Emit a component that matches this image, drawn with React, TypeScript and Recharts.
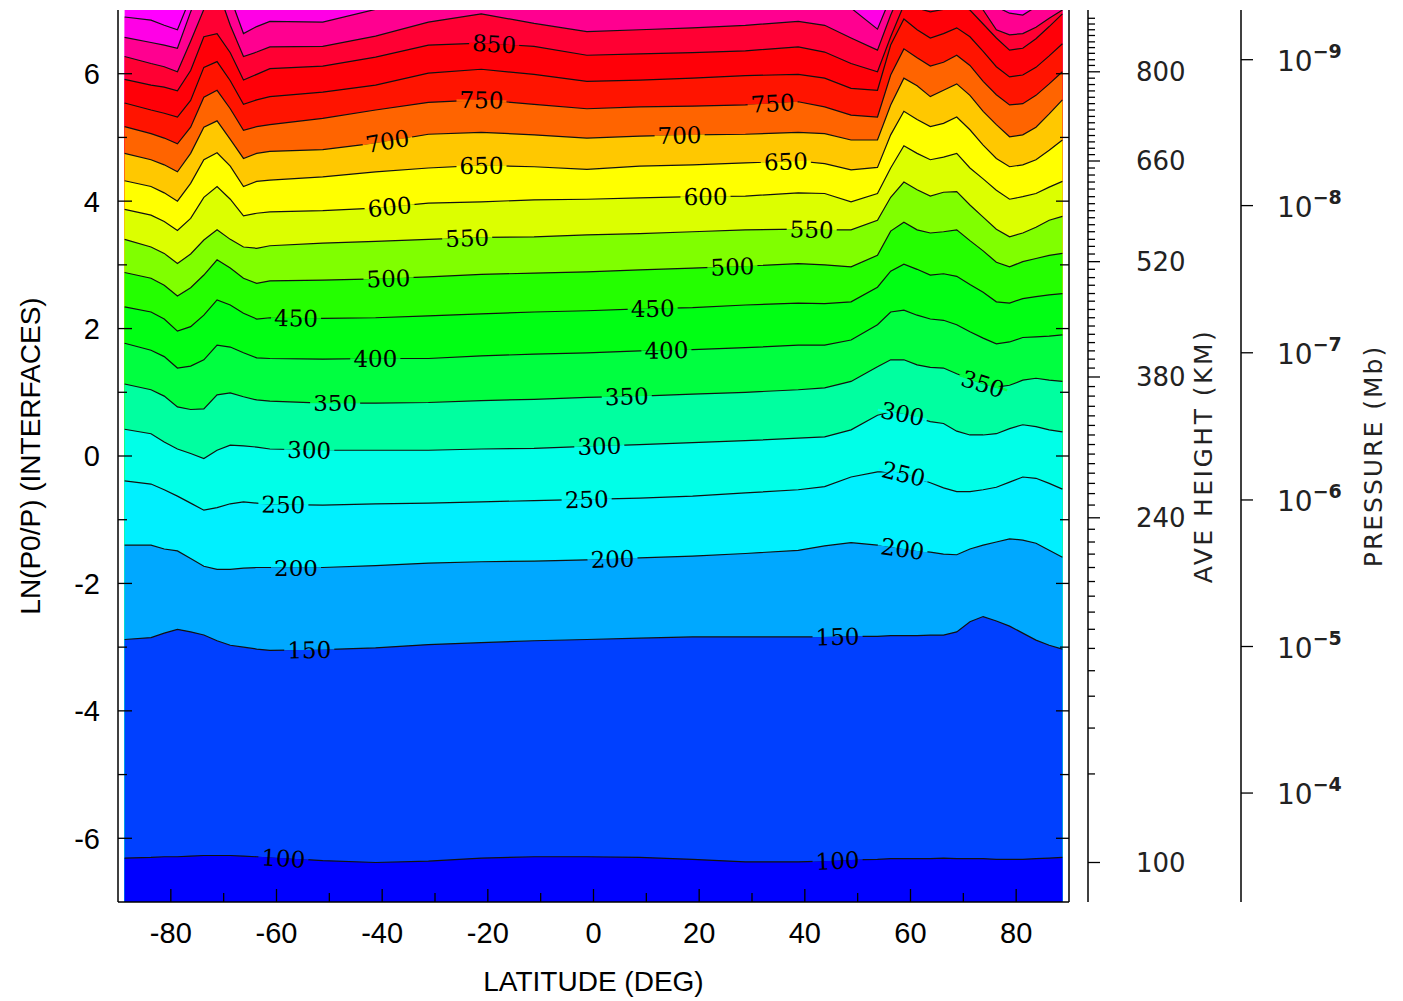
import React from "react";
import { ComposedChart, Area, Scatter, XAxis, YAxis, ReferenceArea } from "recharts";

// grid latitudes (deg) where the contour vertices were read
const latitudes = [
  -88.75, -83.75, -81.25, -78.75, -76.25, -73.75, -71.25, -68.75, -66.25, -63.75, -61.25,
  -51.25, -41.25, -31.25, -21.25, -11.25, -1.25, 8.75, 18.75, 28.75,
  38.75, 43.75, 48.75, 53.75, 56.25, 58.75, 61.25, 63.75, 66.25, 68.75, 71.25, 73.75,
  76.25, 78.75, 81.25, 83.75, 86.25, 88.75,
];

// LN(P0/P) of each temperature contour at those latitudes
const t100 = [-6.31, -6.3, -6.29, -6.29, -6.28, -6.27, -6.27, -6.27, -6.28, -6.29, -6.3, -6.35, -6.38, -6.36, -6.31, -6.29, -6.29, -6.3, -6.33, -6.37, -6.37, -6.36, -6.34, -6.33, -6.32, -6.32, -6.32, -6.32, -6.31, -6.32, -6.32, -6.32, -6.33, -6.33, -6.33, -6.32, -6.31, -6.3];
const t150 = [-2.88, -2.85, -2.78, -2.72, -2.76, -2.81, -2.9, -2.97, -3.0, -3.03, -3.05, -3.04, -3.01, -2.96, -2.93, -2.9, -2.88, -2.86, -2.84, -2.84, -2.84, -2.84, -2.83, -2.83, -2.82, -2.82, -2.82, -2.81, -2.81, -2.76, -2.6, -2.52, -2.59, -2.67, -2.78, -2.89, -2.97, -3.03];
const t200 = [-1.4, -1.4, -1.46, -1.49, -1.61, -1.73, -1.78, -1.78, -1.76, -1.75, -1.75, -1.75, -1.72, -1.68, -1.66, -1.65, -1.63, -1.6, -1.57, -1.53, -1.48, -1.41, -1.36, -1.4, -1.43, -1.46, -1.49, -1.51, -1.54, -1.55, -1.46, -1.4, -1.35, -1.3, -1.32, -1.37, -1.48, -1.59];
const t250 = [-0.39, -0.44, -0.53, -0.63, -0.74, -0.85, -0.81, -0.75, -0.72, -0.74, -0.76, -0.77, -0.75, -0.74, -0.72, -0.7, -0.68, -0.66, -0.63, -0.58, -0.53, -0.48, -0.33, -0.25, -0.25, -0.28, -0.35, -0.42, -0.5, -0.56, -0.56, -0.53, -0.49, -0.41, -0.33, -0.35, -0.43, -0.52];
const t300 = [0.42, 0.35, 0.22, 0.11, 0.04, -0.04, 0.09, 0.17, 0.16, 0.14, 0.11, 0.09, 0.09, 0.09, 0.11, 0.12, 0.15, 0.18, 0.21, 0.24, 0.28, 0.3, 0.41, 0.64, 0.69, 0.66, 0.6, 0.54, 0.51, 0.39, 0.33, 0.33, 0.35, 0.43, 0.49, 0.46, 0.41, 0.38];
const t350 = [1.13, 1.04, 0.94, 0.77, 0.73, 0.74, 0.96, 0.99, 0.93, 0.88, 0.86, 0.83, 0.83, 0.84, 0.87, 0.89, 0.92, 0.94, 0.97, 1.0, 1.04, 1.07, 1.17, 1.4, 1.51, 1.51, 1.43, 1.39, 1.38, 1.29, 1.21, 1.13, 1.08, 1.11, 1.19, 1.22, 1.19, 1.17];
const t400 = [1.77, 1.66, 1.56, 1.38, 1.41, 1.51, 1.74, 1.71, 1.62, 1.54, 1.53, 1.52, 1.53, 1.53, 1.57, 1.6, 1.62, 1.65, 1.67, 1.7, 1.74, 1.74, 1.82, 2.06, 2.26, 2.29, 2.21, 2.15, 2.13, 2.06, 1.95, 1.85, 1.76, 1.79, 1.86, 1.87, 1.88, 1.9];
const t450 = [2.34, 2.26, 2.15, 1.96, 2.03, 2.21, 2.45, 2.37, 2.24, 2.15, 2.17, 2.16, 2.17, 2.2, 2.23, 2.26, 2.28, 2.31, 2.33, 2.37, 2.4, 2.39, 2.42, 2.65, 2.9, 3.01, 2.93, 2.84, 2.86, 2.82, 2.69, 2.57, 2.42, 2.4, 2.47, 2.5, 2.53, 2.55];
const t500 = [2.88, 2.79, 2.68, 2.51, 2.64, 2.84, 3.08, 2.95, 2.79, 2.71, 2.75, 2.76, 2.78, 2.81, 2.85, 2.87, 2.89, 2.92, 2.95, 2.98, 3.02, 3.0, 2.97, 3.15, 3.53, 3.67, 3.55, 3.5, 3.52, 3.55, 3.38, 3.22, 3.04, 2.97, 3.05, 3.1, 3.15, 3.18];
const t550 = [3.4, 3.28, 3.18, 3.02, 3.17, 3.39, 3.55, 3.4, 3.28, 3.26, 3.3, 3.34, 3.37, 3.4, 3.43, 3.44, 3.47, 3.49, 3.52, 3.55, 3.56, 3.55, 3.55, 3.7, 4.06, 4.3, 4.18, 4.08, 4.14, 4.15, 3.94, 3.75, 3.56, 3.44, 3.5, 3.59, 3.7, 3.76];
const t600 = [3.87, 3.78, 3.68, 3.54, 3.73, 4.06, 4.23, 4.03, 3.77, 3.81, 3.83, 3.85, 3.89, 3.97, 3.99, 4.02, 4.03, 4.05, 4.07, 4.08, 4.13, 4.12, 3.99, 4.12, 4.52, 4.87, 4.75, 4.65, 4.69, 4.75, 4.52, 4.35, 4.17, 4.03, 4.07, 4.12, 4.22, 4.31];
const t650 = [4.32, 4.23, 4.13, 4.0, 4.28, 4.65, 4.76, 4.55, 4.23, 4.31, 4.33, 4.38, 4.46, 4.52, 4.56, 4.54, 4.5, 4.55, 4.57, 4.6, 4.63, 4.59, 4.49, 4.53, 5.04, 5.41, 5.28, 5.17, 5.22, 5.32, 5.12, 4.88, 4.67, 4.54, 4.57, 4.65, 4.8, 4.96];
const t700 = [4.75, 4.65, 4.57, 4.46, 4.75, 5.16, 5.26, 4.97, 4.67, 4.75, 4.78, 4.81, 4.91, 5.05, 5.08, 5.04, 4.99, 5.02, 5.04, 5.05, 5.08, 5.06, 4.96, 4.96, 5.51, 5.93, 5.81, 5.64, 5.74, 5.84, 5.66, 5.41, 5.2, 5.01, 5.04, 5.16, 5.37, 5.59];
const t750 = [5.17, 5.06, 4.99, 4.9, 5.16, 5.63, 5.74, 5.45, 5.11, 5.17, 5.2, 5.3, 5.43, 5.55, 5.59, 5.52, 5.45, 5.48, 5.49, 5.51, 5.56, 5.48, 5.35, 5.32, 5.98, 6.39, 6.25, 6.12, 6.18, 6.29, 6.13, 5.88, 5.67, 5.51, 5.53, 5.66, 5.84, 6.03];
const t800 = [5.54, 5.43, 5.38, 5.32, 5.58, 6.1, 6.19, 5.89, 5.52, 5.59, 5.64, 5.71, 5.82, 6.01, 6.07, 5.99, 5.88, 5.9, 5.93, 5.97, 5.99, 5.93, 5.77, 5.74, 6.45, 6.86, 6.69, 6.56, 6.63, 6.72, 6.58, 6.35, 6.11, 5.95, 5.98, 6.1, 6.28, 6.47];
const t850 = [5.91, 5.82, 5.79, 5.73, 6.05, 6.58, 6.63, 6.33, 5.9, 5.99, 6.08, 6.12, 6.26, 6.45, 6.48, 6.43, 6.29, 6.31, 6.33, 6.36, 6.42, 6.34, 6.16, 6.03, 6.58, 7.08, 7.03, 6.97, 7.01, 7.08, 7.0, 6.78, 6.56, 6.37, 6.4, 6.55, 6.74, 6.94];
const t900 = [6.27, 6.16, 6.11, 6.03, 6.51, 7.01, 7.35, 6.76, 6.27, 6.34, 6.42, 6.43, 6.59, 6.81, 6.94, 6.79, 6.66, 6.69, 6.72, 6.76, 6.82, 6.76, 6.56, 6.37, 6.92, 7.4, 7.3, 7.25, 7.3, 7.4, 7.3, 7.0, 6.69, 6.61, 6.63, 6.73, 6.87, 7.0];
const t950 = [6.57, 6.49, 6.45, 6.4, 6.97, 7.5, 7.7, 7.2, 6.63, 6.74, 6.82, 6.81, 7.01, 7.2, 7.3, 7.2, 7.15, 7.15, 7.15, 7.15, 7.1, 7.1, 7.03, 6.7, 7.2, 7.8, 7.7, 7.6, 7.7, 7.8, 7.6, 7.3, 7.05, 6.95, 6.92, 7.05, 7.2, 7.2];
const t1000 = [6.89, 6.84, 6.76, 6.69, 7.2, 7.8, 8.0, 7.6, 7.2, 7.3, 7.3, 7.4, 7.5, 7.6, 7.6, 7.6, 7.55, 7.55, 7.55, 7.55, 7.5, 7.5, 7.4, 7.2, 7.6, 8.0, 8.0, 7.9, 7.9, 8.0, 7.9, 7.7, 7.5, 7.4, 7.4, 7.5, 7.6, 7.6];

const levels = [100, 150, 200, 250, 300, 350, 400, 450, 500, 550, 600, 650, 700, 750, 800, 850, 900, 950, 1000];
const contours: Record<number, number[]> = {
  100: t100, 150: t150, 200: t200, 250: t250, 300: t300, 350: t350, 400: t400, 450: t450, 500: t500,
  550: t550, 600: t600, 650: t650, 700: t700, 750: t750, 800: t800, 850: t850, 900: t900, 950: t950, 1000: t1000,
};

// colour of the band just below each level; last entry is above the top level
const bandColors = [
  "#0000ff", "#0040ff", "#00a8ff", "#00f0ff", "#00ffe8", "#00ffa0", "#00ff40", "#00ff14", "#24ff00",
  "#80ff00", "#dcff00", "#ffff00", "#ffc800", "#ff6400", "#ff1400", "#ff0008", "#ff0033", "#ff0090",
  "#ff00e6", "#ff00ff",
];

const latTicks = [-80, -70, -60, -50, -40, -30, -20, -10, 0, 10, 20, 30, 40, 50, 60, 70, 80];
const lnTicks = [-6, -5, -4, -3, -2, -1, 0, 1, 2, 3, 4, 5, 6];

// average height axis (km) and where each tick sits in LN(P0/P)
const heightKm = [
  100, 110, 120, 130, 140, 150, 160, 170, 180, 190, 200, 210, 220, 230, 240, 250, 260, 270, 280, 290,
  300, 310, 320, 330, 340, 350, 360, 370, 380, 390, 400, 410, 420, 430, 440, 450, 460, 470, 480, 490,
  500, 510, 520, 530, 540, 550, 560, 570, 580, 590, 600, 610, 620, 630, 640, 650, 660, 670, 680, 690,
  700, 710, 720, 730, 740, 750, 760, 770, 780, 790, 800, 810, 820, 830, 840, 850, 860, 870, 880, 890,
];
const heightPos = [
  -6.38, -4.99, -4.27, -3.77, -3.37, -3.02, -2.72, -2.45, -2.2, -1.97, -1.75, -1.54, -1.35, -1.15, -0.97, -0.77, -0.59, -0.43, -0.27, -0.12,
  0.03, 0.18, 0.33, 0.48, 0.63, 0.78, 0.94, 1.09, 1.24, 1.38, 1.52, 1.65, 1.78, 1.91, 2.04, 2.17, 2.3, 2.43, 2.55, 2.68,
  2.8, 2.93, 3.05, 3.17, 3.29, 3.4, 3.52, 3.63, 3.74, 3.85, 3.96, 4.07, 4.19, 4.3, 4.41, 4.52, 4.63, 4.73, 4.83, 4.93,
  5.03, 5.13, 5.23, 5.33, 5.43, 5.53, 5.63, 5.73, 5.83, 5.93, 6.03, 6.13, 6.22, 6.32, 6.41, 6.5, 6.6, 6.69, 6.78, 6.87,
];
const heightMajor = [100, 240, 380, 520, 660, 800];

const pressureExp = [-9, -8, -7, -6, -5, -4];
const pressurePos = [6.22, 3.93, 1.62, -0.69, -2.99, -5.29];

// where the contour labels sit (level, latitude)
const labelSpots = [
  { level: 850, lat: -18.8 },
  { level: 750, lat: -21.2 }, { level: 750, lat: 33.9 },
  { level: 700, lat: -39 }, { level: 700, lat: 16.3 },
  { level: 650, lat: -21.2 }, { level: 650, lat: 36.4 },
  { level: 600, lat: -38.6 }, { level: 600, lat: 21.2 },
  { level: 550, lat: -23.9 }, { level: 550, lat: 41.3 },
  { level: 500, lat: -38.8 }, { level: 500, lat: 26.3 },
  { level: 450, lat: -56.3 }, { level: 450, lat: 11.2 },
  { level: 400, lat: -41.3 }, { level: 400, lat: 13.8 },
  { level: 350, lat: -48.9 }, { level: 350, lat: 6.3 }, { level: 350, lat: 73.7 },
  { level: 300, lat: -53.8 }, { level: 300, lat: 1.1 }, { level: 300, lat: 58.5 },
  { level: 250, lat: -58.7 }, { level: 250, lat: -1.3 }, { level: 250, lat: 58.7 },
  { level: 200, lat: -56.3 }, { level: 200, lat: 3.6 }, { level: 200, lat: 58.5 },
  { level: 150, lat: -53.8 }, { level: 150, lat: 46.2 },
  { level: 100, lat: -58.7 }, { level: 100, lat: 46.2 },
];

const W = 1403;
const H = 1001;
const PLOT_W = 951;
const PLOT_H = 892;
const SANS = "'Liberation Sans', Arial, sans-serif";
const THIN = "'DejaVu Sans', sans-serif";

const rows = latitudes.map((lat, i) => {
  const r: Record<string, number> = { lat };
  levels.forEach((lv) => (r["c" + lv] = contours[lv][i]));
  return r;
});

function valueAt(level: number, lat: number) {
  const vals = contours[level];
  for (let i = 0; i < latitudes.length - 1; i++) {
    if (lat >= latitudes[i] && lat <= latitudes[i + 1]) {
      const f = (lat - latitudes[i]) / (latitudes[i + 1] - latitudes[i]);
      return vals[i] + f * (vals[i + 1] - vals[i]);
    }
  }
  return vals[vals.length - 1];
}

const labelPoints = labelSpots.map(({ level, lat }) => {
  const k = levels.indexOf(level);
  const slope = (valueAt(level, lat + 2) - valueAt(level, lat - 2)) / 4;
  const px = slope * (PLOT_H / 14) / (PLOT_W / 180);
  return {
    lat,
    v: valueAt(level, lat),
    text: String(level),
    angle: (-Math.atan(px) * 180) / Math.PI,
    upper: bandColors[k + 1],
    lower: bandColors[k],
  };
});

function ContourLabel(props: any) {
  const { cx, cy, payload } = props;
  if (cx == null || cy == null) return <g />;
  const w = 50;
  return (
    <g transform={`rotate(${payload.angle} ${cx} ${cy})`}>
      <rect x={cx - w / 2} y={cy - 2.5} width={w} height={2.5} fill={payload.upper} />
      <rect x={cx - w / 2} y={cy} width={w} height={2.5} fill={payload.lower} />
      <text x={cx} y={cy} dy="0.36em" textAnchor="middle" fontFamily="'DejaVu Serif', serif" fontSize={23} fill="#000">
        {payload.text}
      </text>
    </g>
  );
}

const bottomTick = (p: any) => {
  const major = p.payload.value % 20 === 0;
  return (
    <g>
      <line x1={p.x} x2={p.x} y1={p.y} y2={p.y - (major ? 13 : 9)} stroke="#000" strokeWidth={1.3} />
      {major && (
        <text x={p.x} y={p.y + 41} textAnchor="middle" fontFamily={SANS} fontSize={29} fill="#000">
          {p.payload.value}
        </text>
      )}
    </g>
  );
};

const topTick = (p: any) => {
  const major = p.payload.value % 20 === 0;
  return <line x1={p.x} x2={p.x} y1={p.y} y2={p.y + (major ? 14 : 9)} stroke="#000" strokeWidth={1.3} />;
};

const leftTick = (p: any) => {
  const major = p.payload.value % 2 === 0;
  return (
    <g>
      <line x1={p.x} x2={p.x + (major ? 14 : 9)} y1={p.y} y2={p.y} stroke="#000" strokeWidth={1.3} />
      {major && (
        <text x={p.x - 18} y={p.y} dy="0.36em" textAnchor="end" fontFamily={SANS} fontSize={29} fill="#000">
          {p.payload.value}
        </text>
      )}
    </g>
  );
};

const rightFrameTick = (p: any) => {
  const major = p.payload.value % 2 === 0;
  return <line x1={p.x} x2={p.x - (major ? 13 : 9)} y1={p.y} y2={p.y} stroke="#000" strokeWidth={1.3} />;
};

const heightTick = (p: any) => {
  const km = heightKm[p.index];
  const major = heightMajor.includes(km);
  return (
    <g>
      <line x1={p.x} x2={p.x + (major ? 12 : 7)} y1={p.y} y2={p.y} stroke="#000" strokeWidth={1.3} />
      {major && (
        <text x={p.x + 48} y={p.y} dy="0.36em" fontFamily={THIN} fontSize={26} fill="#222">
          {km}
        </text>
      )}
    </g>
  );
};

const pressureTick = (p: any) => {
  const e = pressureExp[p.index];
  return (
    <g>
      <line x1={p.x} x2={p.x + 12} y1={p.y} y2={p.y} stroke="#000" strokeWidth={1.3} />
      <text x={p.x + 36} y={p.y + 11} fontFamily={THIN} fontSize={28} fill="#222">
        10
        <tspan dy={-13} fontSize={19} fontWeight="bold">{"\u2212" + Math.abs(e)}</tspan>
      </text>
    </g>
  );
};

const rotTitle = (text: string, dx: number, font: string, size: number, fill: string, spacing = 0) => (p: any) => {
  const vb = p.viewBox;
  const x = vb.x + dx;
  const y = vb.y + vb.height / 2;
  return (
    <text
      x={x} y={y} dy="0.36em" transform={`rotate(-90 ${x} ${y})`} textAnchor="middle"
      fontFamily={font} fontSize={size} fill={fill} letterSpacing={spacing}
    >
      {text}
    </text>
  );
};

const bottomTitle = (p: any) => {
  const vb = p.viewBox;
  return (
    <text x={vb.x + vb.width / 2} y={vb.y + 89} textAnchor="middle" fontFamily={SANS} fontSize={28} fill="#000">
      LATITUDE (DEG)
    </text>
  );
};

const axisLine = { stroke: "#000", strokeWidth: 1.5 };

export default function App() {
  const drawOrder = [...levels].reverse();
  return (
    <div style={{ position: "absolute", left: 0, top: 0, background: "#fff" }}>
      <ComposedChart width={W} height={H} data={rows} margin={{ top: 10, right: 0, bottom: 0, left: 0 }}>
        <XAxis
          xAxisId="b" dataKey="lat" type="number" domain={[-90, 90]} ticks={latTicks} interval={0}
          height={99} tickSize={0} tickMargin={0} tickLine={false} axisLine={axisLine} tick={bottomTick}
          label={{ content: bottomTitle }}
        />
        <XAxis
          xAxisId="t" orientation="top" dataKey="lat" type="number" domain={[-90, 90]} ticks={latTicks}
          interval={0} height={0} tickSize={0} tickMargin={0} tickLine={false} axisLine={axisLine} tick={topTick}
        />
        <YAxis
          yAxisId="l" type="number" domain={[-7, 7]} allowDataOverflow ticks={lnTicks} interval={0} width={118}
          tickSize={0} tickMargin={0} tickLine={false} axisLine={axisLine} tick={leftTick}
          label={{ content: rotTitle("LN(P0/P) (INTERFACES)", 30, SANS, 28, "#000") }}
        />
        <YAxis
          yAxisId="r1" orientation="right" type="number" domain={[-7, 7]} allowDataOverflow ticks={lnTicks}
          interval={0} width={19} tickSize={0} tickMargin={0} tickLine={false} axisLine={axisLine} tick={rightFrameTick}
        />
        <YAxis
          yAxisId="r2" orientation="right" type="number" domain={[-7, 7]} allowDataOverflow ticks={heightPos}
          interval={0} width={153} tickSize={0} tickMargin={0} tickLine={false} axisLine={axisLine} tick={heightTick}
          label={{ content: rotTitle("AVE HEIGHT (KM)", 115, THIN, 25, "#222", 2.5) }}
        />
        <YAxis
          yAxisId="r3" orientation="right" type="number" domain={[-7, 7]} allowDataOverflow ticks={pressurePos}
          interval={0} width={162} tickSize={0} tickMargin={0} tickLine={false} axisLine={axisLine} tick={pressureTick}
          label={{ content: rotTitle("PRESSURE (Mb)", 132, THIN, 25, "#222", 2) }}
        />
        <ReferenceArea
          xAxisId="b" yAxisId="l" x1={latitudes[0]} x2={latitudes[latitudes.length - 1]} y1={-7} y2={7}
          fill={bandColors[bandColors.length - 1]} fillOpacity={1} stroke="none"
        />
        {drawOrder.map((lv) => (
          <Area
            key={lv}
            xAxisId="b"
            yAxisId="l"
            type="linear"
            dataKey={"c" + lv}
            baseValue="dataMin"
            stroke="#111"
            strokeWidth={1.2}
            fill={bandColors[levels.indexOf(lv)]}
            fillOpacity={1}
            dot={false}
            activeDot={false}
            isAnimationActive={false}
          />
        ))}
        <Scatter
          xAxisId="b"
          yAxisId="l"
          data={labelPoints}
          dataKey="v"
          shape={(p: any) => <ContourLabel {...p} />}
          isAnimationActive={false}
        />
      </ComposedChart>
    </div>
  );
}
